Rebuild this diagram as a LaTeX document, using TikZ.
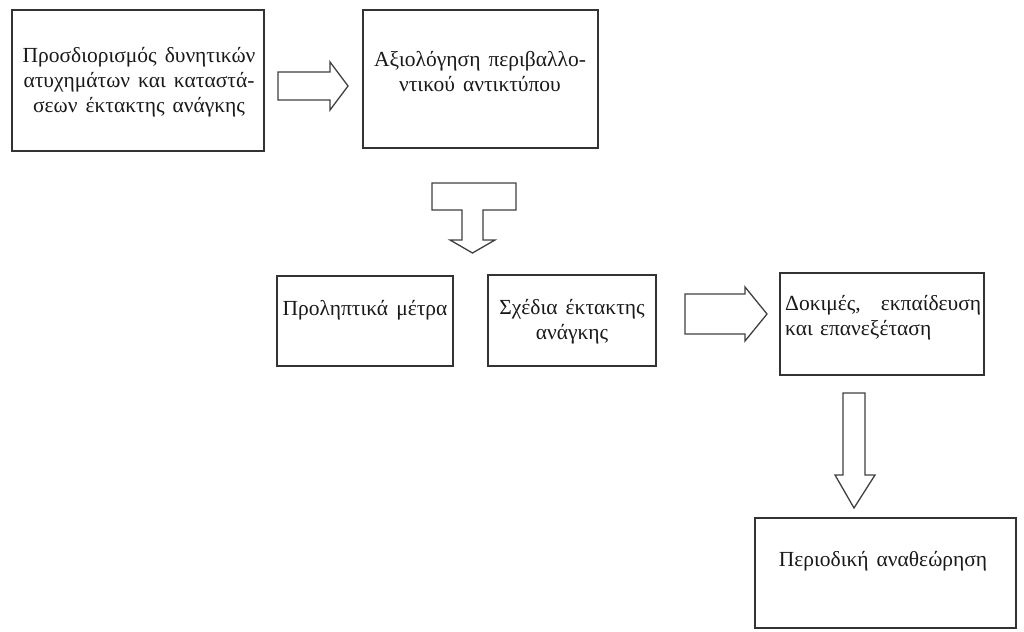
\documentclass[tikz,border=0pt]{standalone}
\usepackage{fontspec}
\setmainfont[WordSpace=1.5]{Liberation Serif}
\begin{document}
\begin{tikzpicture}[x=1pt,y=-1pt,
  box/.style={draw=black!80,line width=2pt,inner sep=0pt},
  txt/.style={font=\fontsize{21.5}{25}\selectfont,inner sep=0pt,align=center,text=black!90},
  blockarrow/.style={draw=black!75,line width=1.3pt,fill=white,line join=miter}]
\useasboundingbox (0,0) rectangle (1024,631);
% boxes
\node[box,minimum width=252pt,minimum height=141pt] (b1) at (138,80.5) {};
\node[box,minimum width=235pt,minimum height=138pt] (b2) at (480.5,79) {};
\node[box,minimum width=176pt,minimum height=90pt] (b3) at (365,321) {};
\node[box,minimum width=168pt,minimum height=91pt] (b4) at (572,320.5) {};
\node[box,minimum width=204pt,minimum height=102pt] (b5) at (882,324) {};
\node[box,minimum width=261pt,minimum height=110pt] (b6) at (885.5,573) {};
% texts
\node[txt] (t1) at (139,82) {Προσδιορισμός δυνητικών\\ατυχημάτων και καταστά-\\σεων έκτακτης ανάγκης};
\node[txt] (t2) at (480,72) {Αξιολόγηση περιβαλλο-\\ντικού αντικτύπου};
\node[txt] (t3) at (365,310) {Προληπτικά μέτρα};
\node[txt] (t4) at (572,322) {Σχέδια έκτακτης\\ανάγκης};
\node[txt,align=left,text width=196pt,anchor=west] (t5) at (785,318) {Δοκιμές,\hfill εκπαίδευση\\και επανεξέταση};
\node[txt] (t6) at (883,561) {Περιοδική αναθεώρηση};
% block arrows
\draw[blockarrow] (278,72) -- (330,72) -- (330,62) -- (348,86) -- (330,110) -- (330,100) -- (278,100) -- cycle;
\draw[blockarrow] (432,183) -- (516,183) -- (516,210) -- (483,210) -- (483,240) -- (495,240) -- (472.5,253) -- (450,240) -- (462,240) -- (462,210) -- (432,210) -- cycle;
\draw[blockarrow] (685,294) -- (745,294) -- (745,287) -- (767,314) -- (745,341) -- (745,334) -- (685,334) -- cycle;
\draw[blockarrow] (843,393) -- (865,393) -- (865,475) -- (875,475) -- (854,508) -- (835,475) -- (843,475) -- cycle;
\end{tikzpicture}
\end{document}
